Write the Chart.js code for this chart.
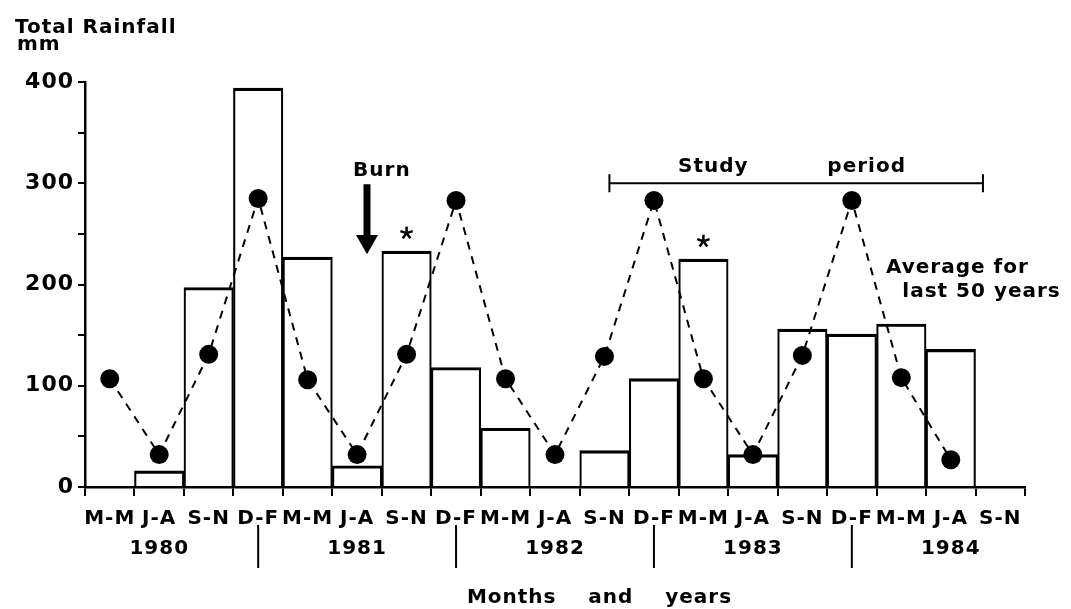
<!DOCTYPE html>
<html>
<head>
<meta charset="utf-8">
<title>Total Rainfall</title>
<script src="https://cdn.jsdelivr.net/npm/chart.js@4.4.1/dist/chart.umd.min.js"></script>
<style>
  html, body { margin: 0; padding: 0; background: #fff; }
  #wrap { width: 1071px; height: 609px; position: relative; }
</style>
</head>
<body>
<div id="wrap"><canvas id="rain"></canvas></div>
<script>
(function() {
    'use strict';

    // --- Data ---
    // Three-month periods, March 1980 to November 1984
    const periods = [
        'M-M', 'J-A', 'S-N', 'D-F',
        'M-M', 'J-A', 'S-N', 'D-F',
        'M-M', 'J-A', 'S-N', 'D-F',
        'M-M', 'J-A', 'S-N', 'D-F',
        'M-M', 'J-A', 'S-N'
    ];
    const years = ['1980', '1981', '1982', '1983', '1984'];

    // Total rainfall for each period (mm), null where nothing was recorded
    const rainfall = [null, 16, 197, 394, 227, 21, 233, 118, 58, null, 36, 107, 225, 32, 156, 151, 161, 136, null];

    // Long-term mean for the same period (last 50 years)
    const average = [107, 32, 131, 285, 106, 32, 131, 283, 107, 32, 129, 283, 107, 32, 130, 283, 108, 27, null];

    // Periods flagged with an asterisk
    const starred = [6, 12];

    const yMax = 400;
    const yStep = 50;

    // Year name sits under the J-A label of each year
    const labels = periods.map((p, i) => (i % 4 === 1 ? [p, years[(i - 1) / 4]] : p));

    const FONT = '"DejaVu Sans", sans-serif';
    const SPACING = '1px';

    Chart.defaults.font.family = FONT;
    Chart.defaults.font.size = 20;
    Chart.defaults.font.weight = 'bold';
    Chart.defaults.color = '#000';

    // --- Extra drawing: titles, burn marker, study period, year dividers ---
    const annotate = {
        id: 'annotate',
        beforeLayout: (chart) => { chart.ctx.letterSpacing = SPACING; },
        beforeDraw: (chart) => { chart.ctx.letterSpacing = SPACING; },
        afterDraw: (chart) => {
            const { ctx, chartArea } = chart;
            const x = chart.scales.x;
            const y = chart.scales.y;

            ctx.save();
            ctx.fillStyle = '#000';
            ctx.strokeStyle = '#000';
            ctx.textBaseline = 'alphabetic';
            ctx.font = 'bold 20px ' + FONT;

            // Y axis title
            ctx.textAlign = 'left';
            ctx.fillText('Total Rainfall', 15, 33);
            ctx.fillText('mm', 17, 50);

            // X axis title
            ctx.textAlign = 'center';
            ctx.fillText('Months    and    years', x.getPixelForValue(9.9), chartArea.bottom + 116);

            // Year dividers under the D-F periods
            ctx.lineWidth = 2;
            [3, 7, 11, 15].forEach(i => {
                const px = x.getPixelForValue(i);
                ctx.beginPath();
                ctx.moveTo(px, chartArea.bottom + 38);
                ctx.lineTo(px, chartArea.bottom + 81);
                ctx.stroke();
            });

            // Burn marker
            ctx.fillText('Burn', x.getPixelForValue(5.5), y.getPixelForValue(307));
            const ax = x.getPixelForValue(5.2);
            const shaftTop = y.getPixelForValue(299);
            const headTop = y.getPixelForValue(249);
            const tip = y.getPixelForValue(230);
            ctx.fillRect(ax - 3.5, shaftTop, 7, headTop - shaftTop + 1);
            ctx.beginPath();
            ctx.moveTo(ax - 11, headTop);
            ctx.lineTo(ax + 11, headTop);
            ctx.lineTo(ax, tip);
            ctx.closePath();
            ctx.fill();

            // Asterisks above flagged bars
            ctx.lineWidth = 2.5;
            starred.forEach(i => {
                const cx = x.getPixelForValue(i);
                const cy = y.getPixelForValue(rainfall[i]) - 18;
                for (let k = 0; k < 5; k++) {
                    const a = (-90 + k * 72) * Math.PI / 180;
                    ctx.beginPath();
                    ctx.moveTo(cx, cy);
                    ctx.lineTo(cx + 6.5 * Math.cos(a), cy + 6.5 * Math.sin(a));
                    ctx.stroke();
                }
            });

            // Study period bracket
            const sy = y.getPixelForValue(300);
            const sx0 = x.getPixelForValue(10.1);
            const sx1 = x.getPixelForValue(17.65);
            ctx.lineWidth = 2;
            ctx.beginPath();
            ctx.moveTo(sx0, sy);
            ctx.lineTo(sx1, sy);
            ctx.moveTo(sx0, sy - 9);
            ctx.lineTo(sx0, sy + 9);
            ctx.moveTo(sx1, sy - 9);
            ctx.lineTo(sx1, sy + 9);
            ctx.stroke();
            ctx.fillText('Study', x.getPixelForValue(12.2), sy - 11);
            ctx.fillText('period', x.getPixelForValue(15.3), sy - 11);

            // Label for the long-term mean
            ctx.textAlign = 'left';
            ctx.fillText('Average for', x.getPixelForValue(15.69), y.getPixelForValue(211));
            ctx.fillText('last 50 years', x.getPixelForValue(16.02), y.getPixelForValue(187.5));

            ctx.restore();
        }
    };

    const ctx = document.getElementById('rain').getContext('2d');

    new Chart(ctx, {
        type: 'bar',
        data: {
            labels: labels,
            datasets: [
                {
                    type: 'line',
                    label: 'Average for last 50 years',
                    data: average,
                    borderColor: '#000',
                    borderWidth: 2,
                    borderDash: [8, 7],
                    pointRadius: 9.5,
                    pointHoverRadius: 9.5,
                    pointBackgroundColor: '#000',
                    pointBorderWidth: 0,
                    tension: 0,
                    fill: false,
                    order: 0
                },
                {
                    type: 'bar',
                    label: 'Total rainfall',
                    data: rainfall,
                    backgroundColor: 'rgba(255, 255, 255, 0)',
                    borderColor: '#000',
                    borderWidth: { top: 2.5, left: 1.5, right: 1.5, bottom: 0 },
                    borderSkipped: 'start',
                    barPercentage: 1,
                    categoryPercentage: 1,
                    order: 1
                }
            ]
        },
        options: {
            responsive: true,
            maintainAspectRatio: false,
            animation: false,
            layout: {
                padding: { top: 82, right: 46, bottom: 0, left: 0 }
            },
            plugins: {
                legend: { display: false },
                tooltip: { enabled: false }
            },
            scales: {
                x: {
                    offset: true,
                    grid: {
                        offset: true,
                        drawOnChartArea: false,
                        drawTicks: true,
                        tickLength: 9,
                        color: '#000',
                        lineWidth: 2
                    },
                    border: { display: true, color: '#000', width: 2.5 },
                    ticks: {
                        autoSkip: false,
                        maxRotation: 0,
                        padding: 8,
                        font: { size: 20, lineHeight: 1.5 }
                    },
                    afterFit: (scale) => { scale.height = 122; }
                },
                y: {
                    min: 0,
                    max: yMax,
                    grid: {
                        drawOnChartArea: false,
                        drawTicks: true,
                        tickLength: 7,
                        color: '#000',
                        lineWidth: 2
                    },
                    border: { display: true, color: '#000', width: 2.5 },
                    ticks: {
                        stepSize: yStep,
                        padding: 4,
                        font: { size: 22 },
                        callback: (value) => (value % 100 === 0 ? value : '')
                    },
                    afterFit: (scale) => { scale.width = 85; }
                }
            }
        },
        plugins: [annotate]
    });
})();
</script>
</body>
</html>
